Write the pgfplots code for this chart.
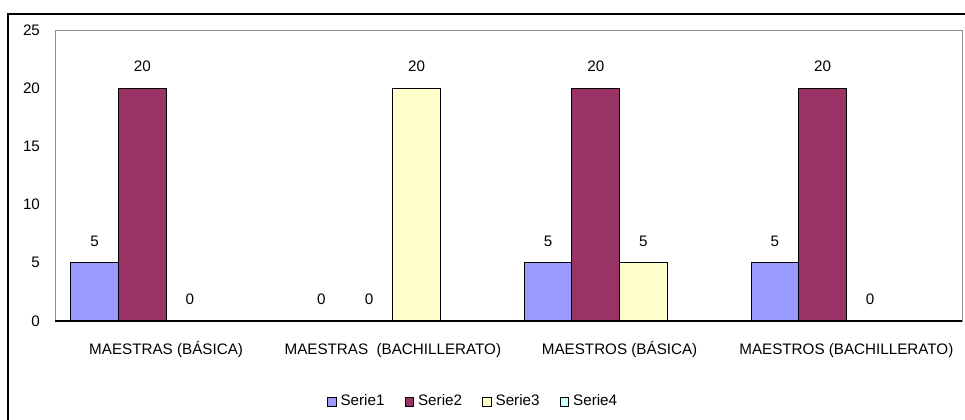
\documentclass[border=0pt]{standalone}
\usepackage{fontspec}
\setmainfont{Liberation Sans}
\usepackage{pgfplots}
\pgfplotsset{compat=1.18}
\definecolor{serieA}{HTML}{9999FF}
\definecolor{serieB}{HTML}{993366}
\definecolor{serieC}{HTML}{FFFFCC}
\definecolor{serieD}{HTML}{CCFFFF}
\begin{document}
\begin{tikzpicture}
\useasboundingbox (0,0) rectangle (482.5pt,209.5pt);
\draw[line width=0.8pt] (4pt,-10pt) rectangle (495pt,202.5pt);
\begin{axis}[
  at={(27.5pt,49pt)}, anchor=south west,
  scale only axis,
  width=453.5pt, height=145.5pt,
  ybar=0pt,
  bar width=0.21,
  ymin=0, ymax=25,
  ytick={0,5,10,15,20,25},
  xmin=-0.49, xmax=3.51,
  xtick={0,1,2,3},
  xticklabels={MAESTRAS (BÁSICA),MAESTRAS\ \ (BACHILLERATO),MAESTROS (BÁSICA),MAESTROS (BACHILLERATO)},
  major tick length=0pt,
  axis line style={gray!90},
  tick label style={font=\fontsize{7.6pt}{8pt}\selectfont},
  /pgf/number format/assume math mode=true,
  yticklabel style={xshift=-4pt},
  xticklabel style={anchor=north, text height=6pt, text depth=1.8pt, yshift=-7pt},
  every node near coord/.append style={font=\fontsize{7.6pt}{8pt}\selectfont, anchor=south, yshift=4.5pt, black},
  legend style={at={(0.462,-0.278)}, anchor=center, draw=none, legend columns=-1,
    font=\fontsize{7.6pt}{8pt}\selectfont,
    /tikz/every even column/.append style={column sep=8pt}},
  legend image code/.code={\draw[#1,draw=black,line width=0.4pt] (0pt,-2.2pt) rectangle (4.4pt,2.2pt);},
  clip=false,
]
\addplot[fill=serieA, draw=black, line width=0.5pt, nodes near coords] coordinates {(0,5) (1,0) (2,5) (3,5)};
\addlegendentry{Serie1}
\addplot[fill=serieB, draw=black, line width=0.5pt, nodes near coords] coordinates {(0,20) (1,0) (2,20) (3,20)};
\addlegendentry{Serie2}
\addplot[fill=serieC, draw=black, line width=0.5pt, nodes near coords] coordinates {(0,0) (1,20) (2,5) (3,0)};
\addlegendentry{Serie3}
\addplot[fill=serieD, draw=black, line width=0.5pt] coordinates {(0,0) (1,0) (2,0) (3,0)};
\addlegendentry{Serie4}
\draw[black, line width=0.8pt] (rel axis cs:0,0) -- (rel axis cs:1,0);
\end{axis}
\end{tikzpicture}
\end{document}
